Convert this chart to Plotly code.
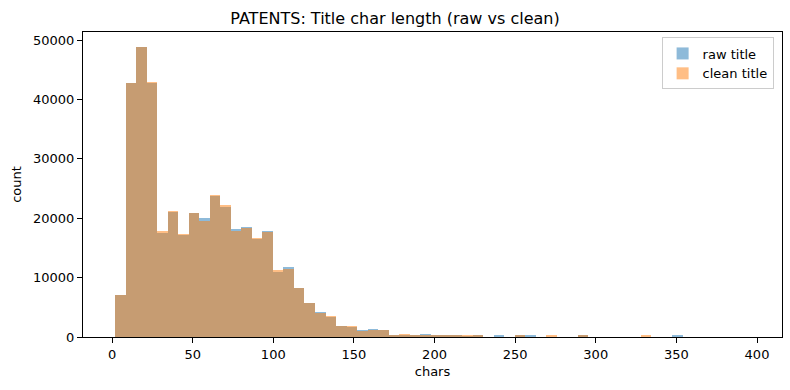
import numpy as np
import plotly.graph_objects as go

# histogram bins (60 bins)
BIN_START = 2.0
BIN_WIDTH = 6.52

raw_counts = [
    7000, 42800, 48900, 42800, 17500, 21000, 17200, 20900, 20050, 23700,
    21900, 18200, 18500, 16500, 17850, 11000, 11800, 8300, 5770, 4200,
    3420, 1900, 1730, 1230, 1400, 1180, 390, 390, 390, 560,
    220, 390, 220, 100, 170, 0, 170, 0, 170, 170,
    0, 0, 0, 0, 170, 0, 0, 0, 0, 0,
    0, 0, 0, 170, 0, 0, 0, 0, 0, 0,
]
clean_counts = [
    7000, 42800, 48900, 43000, 17850, 21200, 17400, 20900, 19550, 23950,
    22200, 17850, 18350, 16700, 17700, 11200, 11450, 8300, 5770, 4040,
    3600, 1900, 1900, 1060, 1100, 1180, 390, 560, 390, 390,
    220, 390, 220, 220, 200, 0, 0, 0, 170, 0,
    0, 170, 0, 0, 170, 0, 0, 0, 0, 0,
    170, 0, 0, 0, 0, 0, 0, 0, 0, 0,
]
x_ticks = [0, 50, 100, 150, 200, 250, 300, 350, 400]
y_ticks = [0, 10000, 20000, 30000, 40000, 50000]

n = len(raw_counts)
centers = BIN_START + BIN_WIDTH * (np.arange(n) + 0.5)

fig = go.Figure()
fig.add_trace(go.Bar(x=centers, y=raw_counts, width=BIN_WIDTH, name="raw title",
                     marker=dict(color="#1f77b4", line=dict(width=0)), opacity=0.5))
fig.add_trace(go.Bar(x=centers, y=clean_counts, width=BIN_WIDTH, name="clean title",
                     marker=dict(color="#ff7f0e", line=dict(width=0)), opacity=0.5))

font = "DejaVu Sans, sans-serif"
fig.update_layout(
    width=790, height=390,
    barmode="overlay", bargap=0,
    plot_bgcolor="white", paper_bgcolor="white",
    margin=dict(l=83, r=8, t=32, b=53),
    font=dict(family=font, size=13, color="black"),
    title=dict(text="PATENTS: Title char length (raw vs clean)", x=0.5, xanchor="center",
               y=1 - 18 / 390, yanchor="middle", font=dict(size=16, family=font)),
    legend=dict(x=0.988, y=0.982, xanchor="right", yanchor="top",
                bgcolor="rgba(255,255,255,0.8)", bordercolor="#cccccc", borderwidth=1,
                font=dict(size=13, family=font), tracegroupgap=2,
                traceorder="normal"),
    xaxis=dict(range=[-18, 415.5], tickvals=x_ticks, ticks="outside", ticklen=5,
               tickcolor="black", showline=True, linecolor="black", linewidth=1,
               mirror=True, showgrid=False, zeroline=False,
               title=dict(text="chars", font=dict(size=13), standoff=6)),
    yaxis=dict(range=[0, 51350], tickvals=y_ticks, tickformat="d", ticks="outside",
               ticklen=5, tickcolor="black", showline=True, linecolor="black",
               linewidth=1, mirror=True, showgrid=False, zeroline=False,
               title=dict(text="count", font=dict(size=13), standoff=8)),
)

fig.write_html("out.html")
